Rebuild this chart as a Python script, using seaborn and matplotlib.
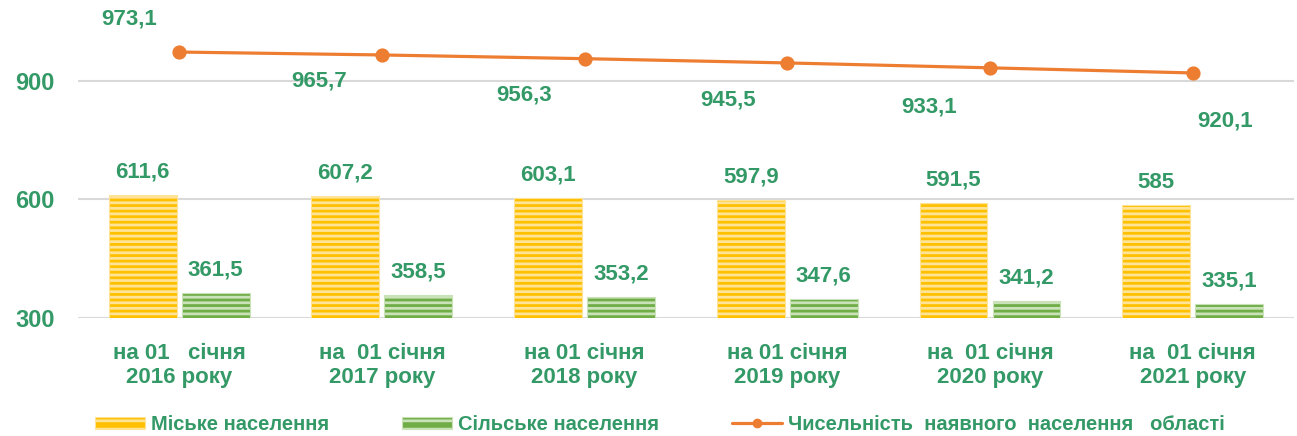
import pandas as pd
import numpy as np
import matplotlib
matplotlib.use('Agg')
import matplotlib.pyplot as plt
import seaborn as sns
from matplotlib.patches import Patch
from matplotlib.lines import Line2D

# Data (thousand persons)
years = ['2016', '2017', '2018', '2019', '2020', '2021']
categories = ['на 01   січня\n2016 року', 'на  01 січня\n2017 року', 'на 01 січня\n2018 року',
              'на 01 січня\n2019 року', 'на  01 січня\n2020 року', 'на  01 січня\n2021 року']
urban = [611.6, 607.2, 603.1, 597.9, 591.5, 585.0]
rural = [361.5, 358.5, 353.2, 347.6, 341.2, 335.1]
total = [973.1, 965.7, 956.3, 945.5, 933.1, 920.1]
series_names = ['Міське населення', 'Сільське населення']
line_name = 'Чисельність  наявного  населення   області'
yticks = [300, 600, 900]

# Label offsets for the total line (pixels), placed by hand like in the source chart
line_label_offsets = [(-50, 33), (-63, -26), (-61, -36), (-59, -37), (-61, -39), (32, -48)]

GREEN_TXT = '#339966'
YELLOW, YELLOW_LT = '#FFC000', '#FFE497'
GREEN, GREEN_LT = '#70AD47', '#C9E2B8'
ORANGE = '#ED7D31'

sns.set_theme(style='white')
plt.rcParams['font.family'] = ['Liberation Sans', 'DejaVu Sans']
plt.rcParams['font.weight'] = 'bold'
plt.rcParams['hatch.linewidth'] = 2.0


def fmt(v):
    return f'{v:g}'.replace('.', ',')


df = pd.DataFrame({
    'cat': categories * 2,
    'value': urban + rural,
    'series': [series_names[0]] * len(urban) + [series_names[1]] * len(rural),
})

fig = plt.figure(figsize=(12.97, 4.36), dpi=100)
ax = fig.add_axes([0.060, 0.2706, 0.9377, 0.7294])

sns.barplot(data=df, x='cat', y='value', hue='series', order=categories,
            hue_order=series_names, palette=[YELLOW, GREEN], width=0.72, gap=0.07,
            legend=False, ax=ax)

# striped fill like the source
for cont, face, stripe in zip(ax.containers, [YELLOW, GREEN], [YELLOW_LT, GREEN_LT]):
    for bar in cont:
        bar.set_facecolor(face)
        bar.set_edgecolor(stripe)
        bar.set_linewidth(0.8)
        bar.set_hatch('---')
    ax.bar_label(cont, labels=[fmt(b.get_height()) for b in cont], padding=9,
                 fontsize=16, fontweight='bold', color=GREEN_TXT)

sns.pointplot(x=categories, y=total, order=categories, color=ORANGE, errorbar=None,
              markers='o', markersize=8.5, linewidth=2.3, ax=ax)

for i, (v, off) in enumerate(zip(total, line_label_offsets)):
    ax.annotate(fmt(v), (i, v), xytext=off, textcoords='offset pixels',
                ha='center', va='center', fontsize=16, fontweight='bold', color=GREEN_TXT)

ax.set_ylim(299, 1105)
ax.set_xlim(-0.5, len(categories) - 0.5)
ax.set_yticks(yticks)
ax.set_yticklabels([str(t) for t in yticks])
ax.yaxis.grid(True, color='#D9D9D9', linewidth=1.5)
ax.set_axisbelow(True)
for s in ax.spines.values():
    s.set_visible(False)
ax.tick_params(axis='y', length=0, pad=16.5, labelsize=17, labelcolor=GREEN_TXT)
ax.tick_params(axis='x', length=0, pad=18, labelsize=16, labelcolor=GREEN_TXT)
for lbl in ax.get_xticklabels() + ax.get_yticklabels():
    lbl.set_fontweight('bold')
ax.set_xlabel('')
ax.set_ylabel('')

handles = [
    Patch(facecolor=YELLOW, edgecolor=YELLOW_LT, hatch='--', linewidth=0.8),
    Patch(facecolor=GREEN, edgecolor=GREEN_LT, hatch='--', linewidth=0.8),
    Line2D([], [], color=ORANGE, linewidth=2.3, marker='o', markersize=6),
]
leg = fig.legend(handles, series_names + [line_name], loc='lower left',
                 bbox_to_anchor=(95 / 1297, 0.005), ncol=3, frameon=False,
                 fontsize=14.5, handlelength=2.5, handleheight=0.55, handletextpad=0.3,
                 columnspacing=3.6, borderpad=0, borderaxespad=0)
for t in leg.get_texts():
    t.set_color(GREEN_TXT)
    t.set_fontweight('bold')

fig.savefig('out.png', dpi=100)
